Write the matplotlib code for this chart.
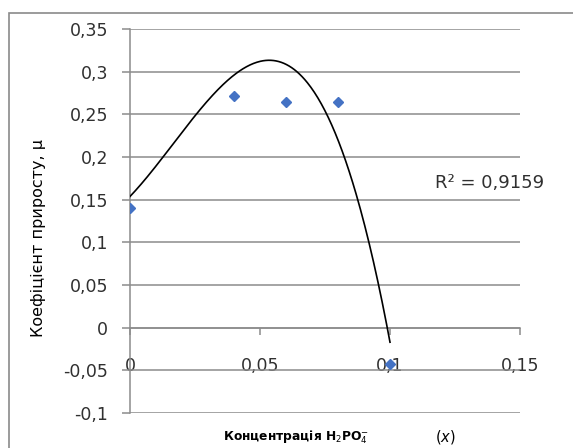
import numpy as np
import matplotlib
matplotlib.use("Agg")
import matplotlib.pyplot as plt
from matplotlib.patches import Rectangle

# Data (measured points)
conc = [0.0, 0.04, 0.06, 0.08, 0.10]
mu = [0.14, 0.272, 0.265, 0.265, -0.042]

# Trendline as drawn in the reference
trend_x = [0.0, 0.0147, 0.0256, 0.0365, 0.0532, 0.0622, 0.075, 0.0814, 0.0872, 0.0923, 0.0968, 0.10]
trend_y = [0.154, 0.207, 0.252, 0.285, 0.3145, 0.307, 0.252, 0.207, 0.150, 0.098, 0.043, -0.025]

x_ticks = [0.0, 0.05, 0.10, 0.15]
x_tick_labels = ["0", "0,05", "0,1", "0,15"]
y_ticks = [-0.1, -0.05, 0.0, 0.05, 0.1, 0.15, 0.2, 0.25, 0.3, 0.35]
y_tick_labels = ["-0,1", "-0,05", "0", "0,05", "0,1", "0,15", "0,2", "0,25", "0,3", "0,35"]
r2_label = "R² = 0,9159"
y_label = "Коефіцієнт приросту, μ"
x_label_main = r"Концентрація H$_2$PO$_4^{-}$"
x_label_var = r"($\mathit{x}$)"

plt.rcParams['font.family'] = ['DejaVu Sans']
plt.rcParams['mathtext.fontset'] = 'dejavusans'

fig = plt.figure(figsize=(5.73, 4.48), dpi=100)
W, H = 573, 448
ax = fig.add_axes([130 / W, (H - 413) / H, 390 / W, 384 / H])

grid_c = '#8c8c8c'
text_c = '#303030'

# Polynomial trendline through the curve
coef = np.polyfit(trend_x, trend_y, 4)
xs = np.linspace(min(trend_x), max(trend_x), 300)
ax.plot(xs, np.polyval(coef, xs), color='black', lw=1.2, zorder=3)

ax.plot(conc, mu, linestyle='none', marker='D', ms=5.6,
        color='#4472C4', mec='#4472C4', zorder=4)

ax.set_xlim(0, 0.15)
ax.set_ylim(-0.1, 0.35)
ax.set_xticks(x_ticks)
ax.set_xticklabels(x_tick_labels)
ax.set_yticks(y_ticks)
ax.set_yticklabels(y_tick_labels)

ax.grid(axis='y', color=grid_c, lw=1.1)
ax.set_axisbelow(True)
for s in ['top', 'right']:
    ax.spines[s].set_visible(False)
ax.spines['bottom'].set_position(('data', 0))
for s in ['left', 'bottom']:
    ax.spines[s].set_color(grid_c)
    ax.spines[s].set_linewidth(1.1)

ax.tick_params(axis='y', direction='out', length=5.8, width=1.1, color=grid_c,
               pad=10, labelsize=12.5, labelcolor=text_c)
ax.tick_params(axis='x', direction='out', length=5, width=1.1, color=grid_c,
               pad=16, labelsize=12.5, labelcolor=text_c)

ax.text((435 - 130) / 390, (413 - 183) / 384, r2_label, transform=ax.transAxes,
        ha='left', va='center', fontsize=13, color=text_c)

fig.text(38 / W, 1 - 238 / H, y_label, rotation=90, ha='center', va='center',
         fontsize=11.5, color='black')
fig.text(223 / W, 1 - 437 / H, x_label_main, ha='left', va='center',
         fontsize=8.8, fontweight='bold', color='black')
fig.text(445 / W, 1 - 437 / H, x_label_var, ha='center', va='center',
         fontsize=10.5, color='black')

# chart border
fig.patches.append(Rectangle((9 / W, -0.1), 1.2, (H - 13) / H + 0.1,
                             transform=fig.transFigure, fill=False,
                             edgecolor='#8a8a8a', lw=1.2))

fig.savefig('out.png', dpi=100)
